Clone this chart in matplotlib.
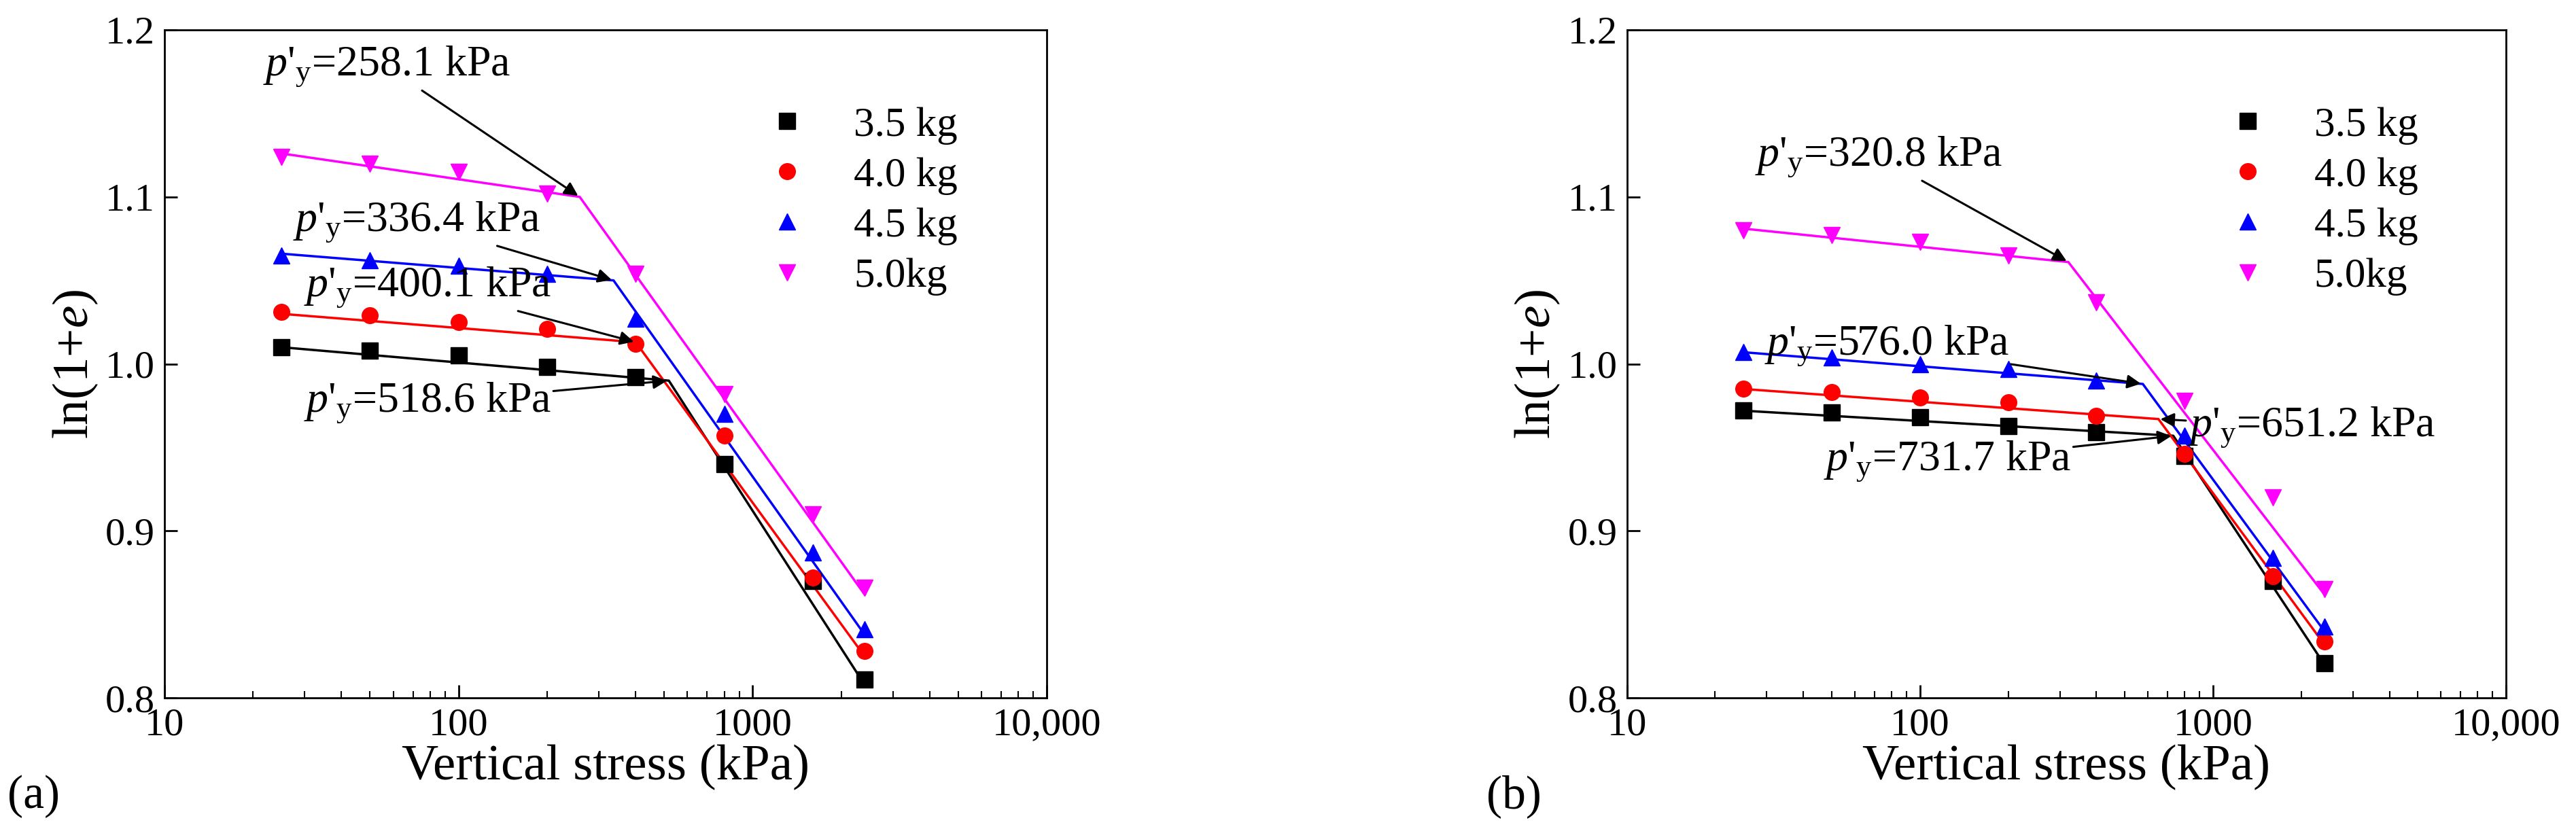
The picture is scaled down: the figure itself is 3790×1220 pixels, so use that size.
import matplotlib
matplotlib.use("Agg")
import matplotlib.pyplot as plt
import numpy as np

plt.rcParams['font.family'] = ['Liberation Serif', 'DejaVu Serif']
plt.rcParams['mathtext.fontset'] = 'custom'
plt.rcParams['mathtext.rm'] = 'Liberation Serif'
plt.rcParams['mathtext.it'] = 'Liberation Serif:italic'

stress = [25, 50, 100, 200, 400, 800, 1600, 2400]
labels = ['3.5 kg', '4.0 kg', '4.5 kg', '5.0kg']
colors = ['black', 'red', 'blue', 'magenta']
markers = ['s', 'o', '^', 'v']

a_vals = [
    [1.010, 1.008, 1.005, 0.998, 0.992, 0.940, 0.870, 0.811],
    [1.031, 1.029, 1.025, 1.021, 1.012, 0.957, 0.872, 0.828],
    [1.065, 1.062, 1.059, 1.054, 1.027, 0.970, 0.887, 0.841],
    [1.124, 1.120, 1.115, 1.102, 1.054, 0.982, 0.910, 0.866],
]
b_vals = [
    [0.972, 0.971, 0.968, 0.963, 0.959, 0.945, 0.870, 0.821],
    [0.985, 0.983, 0.980, 0.977, 0.969, 0.946, 0.873, 0.834],
    [1.007, 1.004, 1.000, 0.997, 0.990, 0.957, 0.884, 0.843],
    [1.080, 1.077, 1.073, 1.065, 1.037, 0.978, 0.920, 0.865],
]
a_yield = [518.6, 400.1, 336.4, 258.1]
b_yield = [731.7, 651.2, 576.0, 320.8]
a_line_y = [[1.010, 0.990, 0.808], [1.030, 1.013, 0.825], [1.066, 1.050, 0.838], [1.126, 1.100, 0.862]]
b_line_y = [[0.972, 0.957, 0.820], [0.985, 0.967, 0.832], [1.007, 0.988, 0.840], [1.081, 1.061, 0.862]]

a_text = [(29.8, 0.977), (29.8, 1.046), (27.3, 1.085), (21.6, 1.178)]
b_text = [(47, 0.942), (820, 0.962), (29.4, 1.011), (27.4, 1.124)]

fig = plt.figure(figsize=(37.91, 12.2), dpi=100)
axA = fig.add_axes([0.0638, 0.158, 0.3425, 0.806])
axB = fig.add_axes([0.6314, 0.158, 0.3412, 0.806])

def draw(ax, vals, yields, liney, texts):
    for i in range(4):
        ax.plot([25, yields[i], 2400], liney[i], color=colors[i], lw=2.5)
    for i in range(4):
        ax.plot(stress, vals[i], linestyle='none', marker=markers[i], color=colors[i],
                markersize=17, label=labels[i])
    for i in range(4):
        tx, ty = texts[i]
        ax.annotate(r"$p$'$_{\mathrm{y}}$=%.1f kPa" % yields[i],
                    xy=(yields[i], liney[i][1]), xytext=(tx, ty),
                    fontsize=46, va='center',
                    arrowprops=dict(arrowstyle='-|>', color='black', lw=2.2,
                                    mutation_scale=30, shrinkA=0, shrinkB=2))
    ax.set_xscale('log')
    ax.set_xlim(10, 10000)
    ax.set_ylim(0.8, 1.2)
    ax.set_xticks([10, 100, 1000, 10000])
    ax.set_xticklabels(['10', '100', '1000', '10,000'])
    ax.set_yticks([0.8, 0.9, 1.0, 1.1, 1.2])
    ax.set_yticklabels(['0.8', '0.9', '1.0', '1.1', '1.2'])
    ax.tick_params(which='major', direction='in', length=14, width=2, labelsize=42, pad=10)
    ax.tick_params(which='minor', direction='in', length=7, width=1.5)
    for s in ax.spines.values():
        s.set_linewidth(2)
    ax.set_xlabel('Vertical stress (kPa)', fontsize=54, labelpad=2)
    ax.set_ylabel(r'ln(1+$e$)', fontsize=54, labelpad=6)
    ax.legend(loc='upper left', bbox_to_anchor=(0.64, 0.91), frameon=False,
              fontsize=44, handletextpad=0.6, labelspacing=0.3, borderaxespad=0)

draw(axA, a_vals, a_yield, a_line_y, a_text)
draw(axB, b_vals, b_yield, b_line_y, b_text)
fig.text(0.003, 0.025, '(a)', fontsize=50)
fig.text(0.577, 0.025, '(b)', fontsize=50)
fig.savefig('out.png', dpi=100)
